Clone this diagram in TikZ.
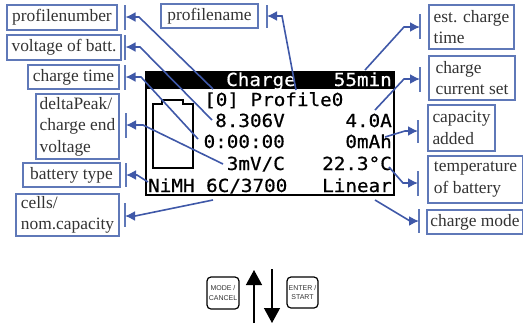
\documentclass[tikz,border=0pt]{standalone}
\usepackage{fontspec}
\setmainfont{Liberation Serif}
\newfontfamily\lcdfont[FakeStretch=1.07,FakeBold=0.6]{DejaVu Sans Mono}
\newfontfamily\btnfont{Liberation Sans}
\usetikzlibrary{arrows.meta}
\definecolor{boxblue}{HTML}{5F78B8}
\definecolor{linkblue}{HTML}{3F58A8}
\definecolor{labelgrey}{HTML}{333333}
\tikzset{
  lbl/.style={draw=boxblue,line width=1.2pt,text=labelgrey,align=left,inner sep=0pt,
    font=\fontsize{17.4}{21.5}\selectfont},
  bar/.style={draw=boxblue,line width=1.1pt},
  link/.style={draw=linkblue,line width=1.6pt,-{Latex[length=10pt,width=10pt]}},
  lcd/.style={font=\fontsize{18}{20}\lcdfont,inner sep=0pt,text=black},
  btn/.style={draw=black,line width=1.2pt,rounded corners=4pt,align=center,inner sep=0pt,
    font=\fontsize{7}{9.5}\btnfont,text=black!80},
  bigarrow/.style={draw=black,line width=1.3pt,-{Triangle[length=15pt,width=16pt]}},
}
\begin{document}
\begin{tikzpicture}[x=1pt,y=-1pt]
\useasboundingbox (0,0) rectangle (523,327);
% label boxes
\node[lbl,minimum width=110pt,minimum height=25pt] (pnum) at (62,17.5) {profilenumber};
\node[lbl,minimum width=114pt,minimum height=25pt] (volt) at (64,47.5) {voltage of batt.};
\node[lbl,minimum width=91pt,minimum height=24pt] (ctime) at (73.5,77) {charge time};
\node[lbl,minimum width=83pt,minimum height=65pt] (delta) at (77.5,126.5) {deltaPeak/\\charge end\\voltage};
\node[lbl,minimum width=97pt,minimum height=24pt] (btype) at (71.5,175) {battery type};
\node[lbl,minimum width=103pt,minimum height=42pt] (cells) at (67.5,215) {cells/\\nom.capacity};
\node[lbl,minimum width=97pt,minimum height=24pt] (pname) at (209.5,16) {profilename};
\node[lbl,minimum width=85pt,minimum height=44pt] (est) at (471.5,27) {est. charge\\time};
\node[lbl,minimum width=86pt,minimum height=44pt] (cur) at (472,78) {charge\\current set};
\node[lbl,minimum width=67pt,minimum height=46pt] (cap) at (461.5,128) {capacity\\added};
\node[lbl,minimum width=95pt,minimum height=47pt] (temp) at (475.5,179.5) {temperature\\of battery};
\node[lbl,minimum width=96pt,minimum height=24pt] (mode) at (475,222) {charge mode};
% bars beside the boxes
\draw[bar] (125,5) -- (125,30);
\draw[bar] (125,35) -- (125,60);
\draw[bar] (125,65) -- (125,90);
\draw[bar] (126,113) -- (126,138);
\draw[bar] (126,163) -- (126,187);
\draw[bar] (125,203) -- (125,227);
\draw[bar] (267,5) -- (267,28);
\draw[bar] (420,14) -- (420,39);
\draw[bar] (420,67) -- (420,92);
\draw[bar] (418,120) -- (418,143);
\draw[bar] (418,171) -- (418,196);
\draw[bar] (419,209) -- (419,233);
% display
\fill[black] (145,71) rectangle (395,89);
\draw[black,line width=2pt] (146,89) -- (146,195) -- (394,195) -- (394,89);
\draw[black,line width=2pt] (153,168) -- (153,103.5) -- (162,103.5) -- (162,99.5) -- (183,99.5) -- (183,103.5) -- (193,103.5) -- (193,168) -- cycle;
\node[lcd,anchor=base west,text=white] (hdr) at (226,86) {Charge};
\node[lcd,anchor=base east,text=white] (hmin) at (392,86) {55min};
\node[lcd,anchor=base west] (prof) at (204,106) {[0] Profile0};
\node[lcd,anchor=base east] (vbat) at (285,127) {8.306V};
\node[lcd,anchor=base east] (ccur) at (392,127) {4.0A};
\node[lcd,anchor=base east] (tim) at (285,148) {0:00:00};
\node[lcd,anchor=base east] (mah) at (392,148) {0mAh};
\node[lcd,anchor=base east] (mv) at (285,170) {3mV/C};
\node[lcd,anchor=base east] (deg) at (392,170) {22.3°C};
\node[lcd,anchor=base west] (nimh) at (148,192) {NiMH 6C/3700};
\node[lcd,anchor=base east] (lin) at (392,192) {Linear};
% connector ends
\coordinate (a1) at (213,89);  \coordinate (t1) at (125.5,17);
\coordinate (a2) at (212,120); \coordinate (t2) at (125.5,47);
\coordinate (a3) at (198,139); \coordinate (t3) at (125.5,77);
\coordinate (a4) at (223,164); \coordinate (t4) at (126,125);
\coordinate (a5) at (148,182); \coordinate (t5) at (126,175);
\coordinate (a6) at (213,200); \coordinate (t6) at (125,216);
\coordinate (a7) at (296,90);  \coordinate (t7) at (267,16);
\coordinate (a8) at (365,70);  \coordinate (t8) at (420,27);
\coordinate (a9) at (375,110); \coordinate (t9) at (420,79);
\coordinate (a10) at (385,137); \coordinate (t10) at (418,131);
\coordinate (a11) at (389,167); \coordinate (t11) at (418,183);
\coordinate (a12) at (375,200); \coordinate (t12) at (419,221);
% connectors
\draw[link] (a1) -- (139,17) -- (t1);
\draw[link] (a2) -- (140,47) -- (t2);
\draw[link] (a3) -- (141,77) -- (t3);
\draw[link] (a4) -- (143,125) -- (t4);
\draw[link] (a5) -- (137,175) -- (t5);
\draw[link] (a6) -- (135,216) -- (t6);
\draw[link] (a7) -- (282,16) -- (t7);
\draw[link] (a8) -- (404,27) -- (t8);
\draw[link] (a9) -- (404,79) -- (t9);
\draw[link] (a10) -- (405,131) -- (t10);
\draw[link] (a11) -- (403,183) -- (t11);
\draw[link] (a12) -- (410,221) -- (t12);
% buttons
\node[btn,minimum width=32pt,minimum height=32pt] (bmode) at (223,293) {MODE /\\CANCEL};
\node[btn,minimum width=31pt,minimum height=31pt] (benter) at (302.5,292.5) {ENTER /\\START};
\coordinate (u0) at (254,323); \coordinate (u1) at (254,270);
\coordinate (d0) at (272,269); \coordinate (d1) at (272,323);
\draw[bigarrow] (u0) -- (u1);
\draw[bigarrow] (d0) -- (d1);
\end{tikzpicture}
\end{document}
